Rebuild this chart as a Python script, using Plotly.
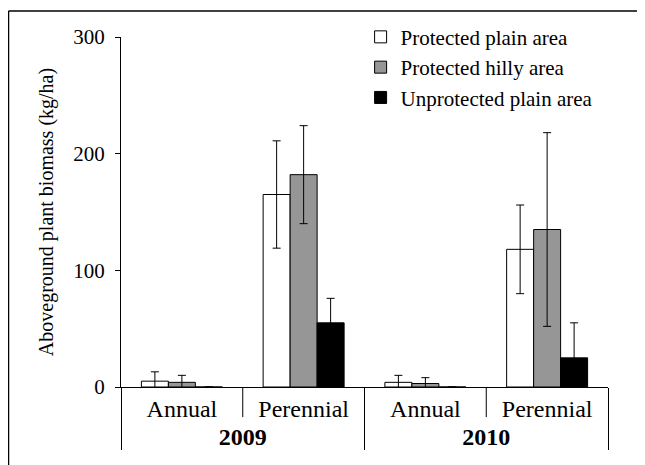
import plotly.graph_objects as go

years = ["<b>2009</b>", "<b>2009</b>", "<b>2010</b>", "<b>2010</b>"]
plant_types = ["Annual", "Perennial", "Annual", "Perennial"]

series_names = ["Protected plain area", "Protected hilly area", "Unprotected plain area"]
plain_values = [5, 165, 4, 118]
plain_errors = [8, 46, 6, 38]
hilly_values = [4, 182, 3, 135]
hilly_errors = [6, 42, 5, 83]
unprot_values = [0, 55, 0, 25]
unprot_errors = [None, 21, None, 30]

y_ticks = [0, 100, 200, 300]

fill_colors = ["#ffffff", "#969696", "#000000"]
FONT = "Liberation Serif, Times New Roman, Times, DejaVu Serif, serif"

fig = go.Figure()
for name, vals, errs, col in zip(series_names,
                                 [plain_values, hilly_values, unprot_values],
                                 [plain_errors, hilly_errors, unprot_errors],
                                 fill_colors):
    fig.add_trace(go.Bar(
        name=name,
        x=[years, plant_types],
        y=vals,
        marker=dict(color=col, line=dict(color="black", width=1)),
        error_y=dict(type="data", array=errs, visible=True, color="black",
                     thickness=1, width=4),
        cliponaxis=False,
    ))

# page has an 8px body margin: figure is 8px smaller, margins shifted by 8px
fig.update_layout(
    width=637, height=457,
    margin=dict(l=113, r=37, t=29, b=78, autoexpand=False),
    paper_bgcolor="white", plot_bgcolor="white",
    barmode="group", bargap=0.335, bargroupgap=0,
    font=dict(family=FONT, size=21, color="black"),
    showlegend=True,
    legend=dict(x=0.492, y=1.058, xanchor="left", yanchor="top",
                font=dict(family=FONT, size=21, color="black"),
                bgcolor="rgba(0,0,0,0)", itemwidth=30, tracegroupgap=0),
)

fig.update_yaxes(
    range=[0, 300], tickvals=y_ticks, ticks="outside", ticklen=5,
    tickcolor="black", showline=True, linecolor="black", linewidth=1,
    showgrid=False, zeroline=False, ticklabelstandoff=6,
    tickfont=dict(family=FONT, size=21),
    title=dict(text="Aboveground plant biomass (kg/ha)",
               font=dict(family=FONT, size=20), standoff=14),
)

fig.update_xaxes(
    type="multicategory", showline=True, linecolor="black", linewidth=1,
    showgrid=False, ticks="", showdividers=True, dividercolor="black",
    dividerwidth=1, tickfont=dict(family=FONT, size=24),
)

# inner dividers between Annual and Perennial within each year
for xpos in [0.5, 2.5]:
    fig.add_shape(type="line", xref="x", yref="paper", x0=xpos, x1=xpos,
                  y0=0, y1=-0.086, line=dict(color="black", width=1))

# outer frame (top and left edges)
fig.add_shape(type="line", xref="paper", yref="paper",
              x0=-0.231, x1=1.076, y0=1.0743, y1=1.0743,
              line=dict(color="black", width=1.5))
fig.add_shape(type="line", xref="paper", yref="paper",
              x0=-0.231, x1=-0.231, y0=1.0743, y1=-0.3,
              line=dict(color="black", width=1.5))

fig.write_html("out.html", config={"displayModeBar": False})
